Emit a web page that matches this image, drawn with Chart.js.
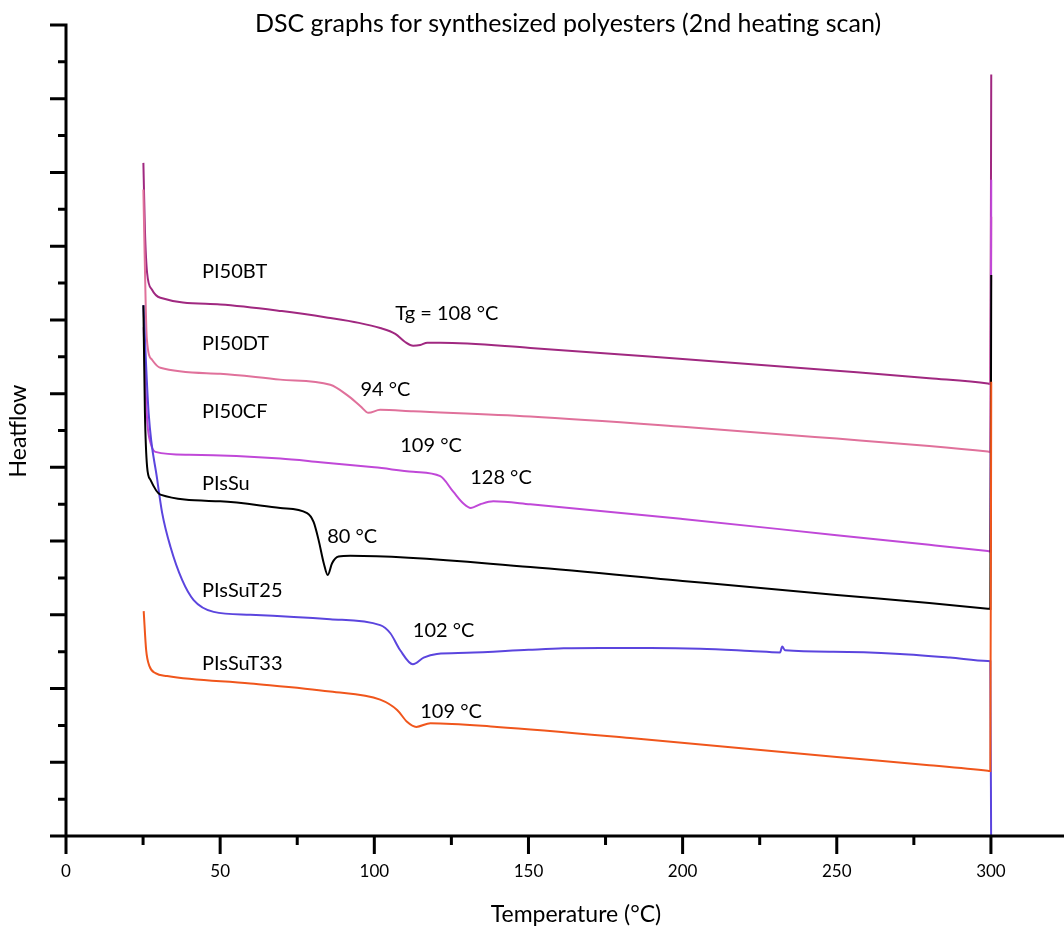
<!DOCTYPE html>
<html>
<head>
<meta charset="utf-8">
<script src="https://cdn.jsdelivr.net/npm/chart.js@4"></script>
<style>
  html, body { margin: 0; padding: 0; background: #fff; }
  #wrap { width: 1064px; height: 928px; }
</style>
</head>
<body>
<div id="wrap"><canvas id="dsc"></canvas></div>
<script>
// 2nd heating scans, temperature (°C) vs heat flow (arbitrary, curves shifted)
const tBT = [25.1, 25.6, 26.3, 27.9, 30.6, 50, 70, 85, 95, 101.9, 106.8, 110.0, 112.6, 114.9, 117.2, 121.4, 150.6, 200, 250, 280, 299, 299.8, 300.1];
const hBT = [9.13, 8.22, 7.64, 7.41, 7.30, 7.21, 7.12, 7.03, 6.96, 6.89, 6.81, 6.70, 6.65, 6.66, 6.69, 6.69, 6.62, 6.47, 6.31, 6.21, 6.137, 6.13, 10.33];

const tDT = [25.1, 25.5, 26.2, 27.9, 30.6, 50, 69.5, 85.7, 91.2, 95.5, 98.1, 101.9, 112.6, 150.6, 200, 250, 280, 299, 299.8, 300.1];
const hDT = [8.77, 7.9, 6.75, 6.46, 6.35, 6.27, 6.19, 6.12, 5.98, 5.83, 5.74, 5.78, 5.76, 5.69, 5.55, 5.39, 5.29, 5.214, 5.21, 8.4];

const tCF = [25.2, 25.7, 26.4, 27.5, 29.0, 40, 69.5, 82.5, 100, 112.6, 121.4, 125.6, 128.9, 131.3, 134.4, 138.6, 150.6, 200, 250, 280, 299, 299.8, 300.1];
const hCF = [6.9, 6.2, 5.6, 5.32, 5.21, 5.17, 5.12, 5.07, 5.00, 4.94, 4.88, 4.67, 4.51, 4.45, 4.50, 4.54, 4.50, 4.30, 4.08, 3.95, 3.864, 3.86, 8.9];

const tSu = [25.1, 25.6, 26.3, 27.4, 30.6, 50, 69.5, 78.2, 80.3, 81.9, 83.6, 84.9, 86.3, 88.4, 92.2, 150.6, 200, 250, 280, 299, 299.8, 300.1];
const hSu = [7.20, 5.74, 5.01, 4.83, 4.63, 4.54, 4.45, 4.38, 4.26, 4.02, 3.70, 3.54, 3.70, 3.79, 3.80, 3.65, 3.46, 3.27, 3.16, 3.083, 3.08, 7.61];

const tT25 = [25.1, 26.8, 29.6, 31.2, 33.9, 37.7, 41.4, 47.9, 59.8, 85.7, 101.9, 105.2, 108.4, 112.5, 116.0, 120.3, 130, 150, 161.4, 173.3, 189.5, 205.7, 221.9, 231.6, 232.3, 233.2, 248.9, 270.5, 286.7, 299, 299.8, 300.1];
const hT25 = [7.20, 5.74, 4.83, 4.38, 3.92, 3.47, 3.20, 3.04, 3.00, 2.94, 2.86, 2.75, 2.52, 2.33, 2.42, 2.47, 2.485, 2.525, 2.545, 2.55, 2.55, 2.54, 2.51, 2.49, 2.57, 2.52, 2.50, 2.47, 2.42, 2.373, 2.37, -0.5];

const tT33 = [25.2, 26.0, 27.1, 29.0, 32.8, 59.8, 85.7, 101.9, 107.4, 110.6, 113.6, 118.2, 139.8, 183.0, 250, 280, 299, 299.8, 300.1];
const hT33 = [3.05, 2.52, 2.30, 2.21, 2.17, 2.07, 1.96, 1.85, 1.71, 1.55, 1.48, 1.53, 1.48, 1.33, 1.07, 0.96, 0.884, 0.88, 6.16];

const xTicks = [0, 50, 100, 150, 200, 250, 300];

// curve names and Tg notes, anchored at left/baseline
const noteText = ['PI50BT', 'Tg = 108 °C', 'PI50DT', '94 °C', 'PI50CF', '109 °C', '128 °C', 'PIsSu', '80 °C', 'PIsSuT25', '102 °C', 'PIsSuT33', '109 °C'];
const noteT = [44.1, 106.8, 44.1, 95.5, 44.1, 108.4, 131.1, 44.1, 84.7, 44.1, 112.5, 44.1, 114.9];
const noteH = [7.571, 7.001, 6.594, 5.974, 5.672, 5.210, 4.776, 4.695, 3.976, 3.243, 2.704, 2.252, 1.601];

const FONT = 'Lato, "Open Sans", sans-serif';

function pairs(ts, hs) {
  return ts.map((t, i) => ({ x: t, y: hs[i] }));
}

function curve(label, ts, hs, color) {
  return {
    label,
    data: pairs(ts, hs),
    borderColor: color,
    backgroundColor: color,
    borderWidth: 2,
    pointRadius: 0,
    cubicInterpolationMode: 'monotone',
    fill: false
  };
}

// axis lines, tick marks, titles and curve notes
const frame = {
  id: 'frame',
  afterDraw(chart) {
    const { ctx, chartArea: a, scales: { x, y } } = chart;
    const x0 = x.getPixelForValue(0);
    const y0 = y.getPixelForValue(0);
    ctx.save();
    ctx.strokeStyle = '#000';
    ctx.lineWidth = 3;
    ctx.beginPath();
    ctx.moveTo(x0, y.getPixelForValue(11) - 1.5);
    ctx.lineTo(x0, y0 + 18);
    ctx.moveTo(x0 - 16, y0);
    ctx.lineTo(a.right, y0);
    for (let v = 0.5; v <= 11; v += 0.5) {
      const py = y.getPixelForValue(v);
      const len = Number.isInteger(v) ? 16 : 8;
      ctx.moveTo(x0 - len, py);
      ctx.lineTo(x0, py);
    }
    for (let v = 25; v <= 300; v += 25) {
      const px = x.getPixelForValue(v);
      const len = v % 50 === 0 ? 18 : 9;
      ctx.moveTo(px, y0);
      ctx.lineTo(px, y0 + len);
    }
    ctx.stroke();

    ctx.fillStyle = '#000';
    ctx.textBaseline = 'alphabetic';
    ctx.textAlign = 'left';
    ctx.font = '20px ' + FONT;
    noteText.forEach((s, i) => {
      ctx.fillText(s, x.getPixelForValue(noteT[i]), y.getPixelForValue(noteH[i]));
    });

    ctx.textAlign = 'center';
    ctx.font = '25px ' + FONT;
    ctx.fillText('DSC graphs for synthesized polyesters (2nd heating scan)', 568, 32);

    ctx.font = '23px ' + FONT;
    ctx.fillText('Temperature (°C)', 576, 922);

    ctx.translate(26, 431);
    ctx.rotate(-Math.PI / 2);
    ctx.fillText('Heatflow', 0, 0);
    ctx.restore();
  }
};

new Chart(document.getElementById('dsc'), {
  type: 'line',
  data: {
    datasets: [
      curve('PIsSuT33', tT33, hT33, '#f0561c'),
      curve('PIsSu', tSu, hSu, '#000000'),
      curve('PIsSuT25', tT25, hT25, '#5b45de'),
      curve('PI50CF', tCF, hCF, '#c048d8'),
      curve('PI50DT', tDT, hDT, '#e0719b'),
      curve('PI50BT', tBT, hBT, '#a02880')
    ]
  },
  options: {
    responsive: true,
    maintainAspectRatio: false,
    animation: false,
    devicePixelRatio: 1,
    layout: { padding: { top: 25, right: 0, left: 0, bottom: 0 } },
    plugins: {
      legend: { display: false },
      tooltip: { enabled: false },
      title: { display: false }
    },
    scales: {
      x: {
        type: 'linear',
        min: 0,
        max: 323.7,
        afterBuildTicks: s => { s.ticks = xTicks.map(v => ({ value: v })); },
        afterFit: s => { s.height = 92; },
        grid: { display: false, drawTicks: false },
        border: { display: false },
        ticks: {
          color: '#000',
          font: { family: FONT, size: 17 },
          padding: 25,
          maxRotation: 0,
          autoSkip: false
        }
      },
      y: {
        min: 0,
        max: 11,
        afterFit: s => { s.width = 66; },
        grid: { display: false, drawTicks: false },
        border: { display: false },
        ticks: { display: false }
      }
    }
  },
  plugins: [frame]
});
</script>
</body>
</html>
